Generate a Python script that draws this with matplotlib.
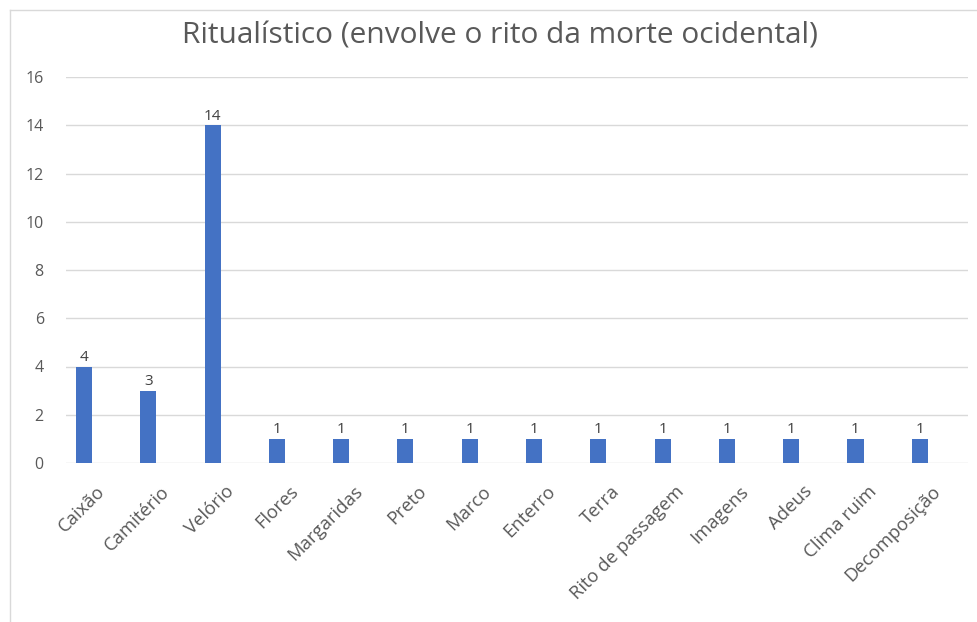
import matplotlib.pyplot as plt
import matplotlib.transforms as mtransforms

categorias = ["Caixão", "Camitério", "Velório", "Flores", "Margaridas", "Preto", "Marco",
              "Enterro", "Terra", "Rito de passagem", "Imagens", "Adeus", "Clima ruim",
              "Decomposição"]
valores = [4, 3, 14, 1, 1, 1, 1, 1, 1, 1, 1, 1, 1, 1]
yticks = [0, 2, 4, 6, 8, 10, 12, 14, 16]

plt.rcParams["font.family"] = ["Open Sans", "DejaVu Sans"]

W, H = 978, 622
fig = plt.figure(figsize=(W / 100, H / 100), dpi=100)
ax = fig.add_axes([66 / W, 1 - 463 / H, (968 - 66) / W, (463 - 77) / H])

x = list(range(len(categorias)))
bars = ax.bar(x, valores, width=0.25, color="#4472C4", zorder=3)
for xi, v in zip(x, valores):
    ax.text(xi, v + 0.06, str(v), ha="center", va="bottom", fontsize=11, color="#404040")

ax.set_xlim(-0.28, 13.75)
ax.set_ylim(0, 16)
ax.set_yticks(yticks)
ax.yaxis.grid(True, color="#d9d9d9", linewidth=1)
ax.set_axisbelow(True)
for s in ax.spines.values():
    s.set_visible(False)
ax.tick_params(axis="both", length=0, colors="#595959")
ax.tick_params(axis="y", pad=16, labelsize=11.5)
ax.tick_params(axis="x", pad=14, labelsize=13.3)
ax.set_xticks(x)
ax.set_xticklabels(categorias, rotation=45, ha="right", rotation_mode="anchor")
desloc = mtransforms.ScaledTranslation(12 / 100, 0, fig.dpi_scale_trans)
for lbl in ax.get_xticklabels():
    lbl.set_transform(lbl.get_transform() + desloc)

fig.text(500 / W, 1 - 36 / H, "Ritualístico (envolve o rito da morte ocidental)",
         ha="center", va="center", fontsize=21.5, color="#595959")

# moldura do gráfico
fig.add_artist(plt.Line2D([10 / W, 10 / W], [0, 1 - 10 / H], color="#d9d9d9", linewidth=1))
fig.add_artist(plt.Line2D([10 / W, 1], [1 - 10 / H, 1 - 10 / H], color="#d9d9d9", linewidth=1))

fig.savefig("out.png", dpi=100)
